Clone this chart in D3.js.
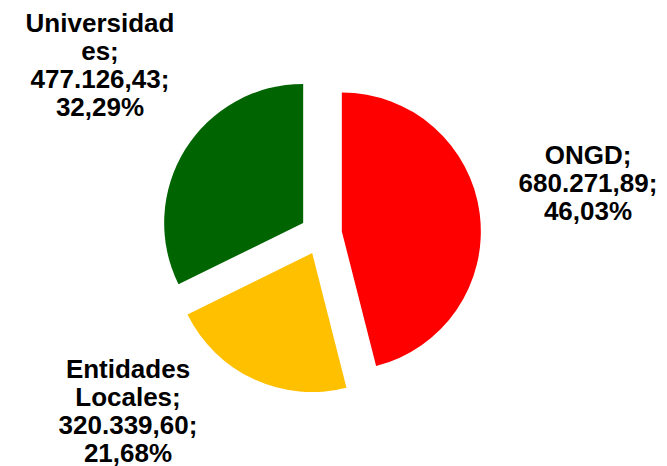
<!DOCTYPE html>
<html>
<head>
<meta charset="utf-8">
<script src="https://cdn.jsdelivr.net/npm/d3@7"></script>
<style>
  body { margin: 0; background: #fff; }
  svg { display: block; }
  .lbl { font-family: "Liberation Sans", Arial, sans-serif; font-weight: bold; font-size: 26px; fill: #000; }
</style>
</head>
<body>
<div id="chart"></div>
<script>
// data
var categories = ["ONGD", "Entidades Locales", "Universidades"];
var amounts    = [680271.89, 320339.60, 477126.43];
var colors     = ["#ff0000", "#ffc000", "#006400"];

var width = 667, height = 466;
var cx = 321, cy = 234, radius = 139, explode = 21;

// where each label block sits (centre x, first baseline)
var labelAnchors = [[588, 164], [128, 378], [100, 32]];
var lineHeight = 28, wrapWidth = 152;

var es = d3.formatLocale({decimal: ",", thousands: ".", grouping: [3], currency: ["", "€"]});
var fmtAmount = es.format(",.2f");
var fmtPct = es.format(".2%");

var total = d3.sum(amounts);
var rows = categories.map(function(c, i) {
  return {name: c, value: amounts[i], color: colors[i], pct: amounts[i] / total};
});

var svg = d3.select("#chart").append("svg")
  .attr("width", width)
  .attr("height", height);

var pie = d3.pie().sort(null).value(function(d) { return d.value; });
var arc = d3.arc().innerRadius(0).outerRadius(radius);

var g = svg.append("g").attr("transform", "translate(" + cx + "," + cy + ")");

g.selectAll("path").data(pie(rows))
  .enter().append("path")
    .attr("d", arc)
    .attr("fill", function(d) { return d.data.color; })
    .attr("transform", function(d) {
      var a = (d.startAngle + d.endAngle) / 2;
      return "translate(" + (Math.sin(a) * explode) + "," + (-Math.cos(a) * explode) + ")";
    });

// measure helper for wrapping
var probe = svg.append("text").attr("class", "lbl").attr("x", -999).attr("y", -999);
function textWidth(s) { probe.text(s); return probe.node().getComputedTextLength(); }

function wrap(str) {
  var words = str.split(" "), lines = [], cur = "";
  words.forEach(function(w) {
    // break a single long word by characters
    while (textWidth(w) > wrapWidth) {
      var k = w.length;
      while (k > 1 && textWidth(w.slice(0, k)) > wrapWidth) k--;
      if (cur) { lines.push(cur); cur = ""; }
      lines.push(w.slice(0, k));
      w = w.slice(k);
    }
    var test = cur ? cur + " " + w : w;
    if (textWidth(test) > wrapWidth && cur) { lines.push(cur); cur = w; }
    else cur = test;
  });
  if (cur) lines.push(cur);
  return lines;
}

rows.forEach(function(r, i) {
  var str = r.name + "; " + fmtAmount(r.value) + "; " + fmtPct(r.pct);
  var lines = wrap(str);
  var t = svg.append("text").attr("class", "lbl")
    .attr("text-anchor", "middle");
  lines.forEach(function(l, j) {
    t.append("tspan")
      .attr("x", labelAnchors[i][0])
      .attr("y", labelAnchors[i][1] + j * lineHeight)
      .text(l);
  });
});
probe.remove();
</script>
</body>
</html>
